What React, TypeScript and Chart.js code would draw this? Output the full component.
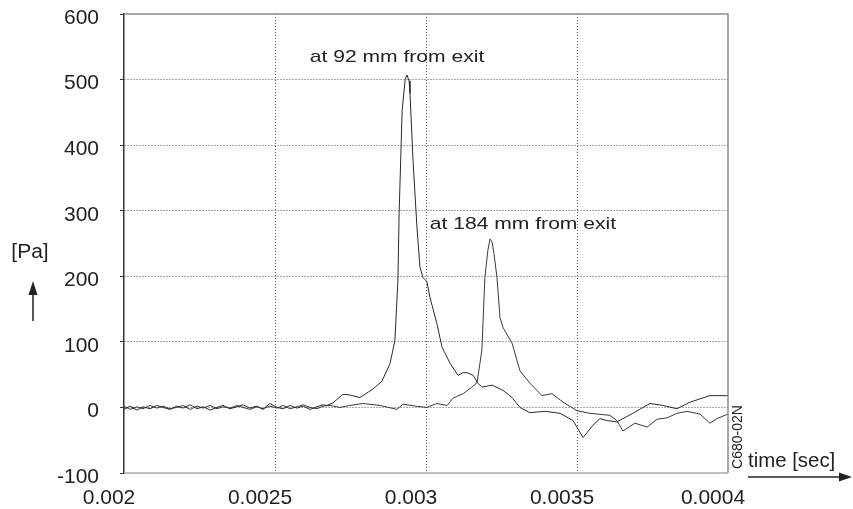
import React, { useEffect, useRef } from 'react';
import { Chart, registerables } from 'chart.js';

Chart.register(...registerables);

// Pressure at 92 mm from exit
const timesA = [
  0.002, 0.00202, 0.002043, 0.002063, 0.002086, 0.002109, 0.002129, 0.002152, 0.002175, 0.002195,
  0.002219, 0.002242, 0.002262, 0.002285, 0.002308, 0.002328, 0.002351, 0.002374, 0.002394, 0.002417,
  0.00244, 0.00246, 0.002483, 0.002507, 0.002527, 0.00255, 0.002573, 0.002593, 0.002616, 0.002639,
  0.002659, 0.002672, 0.002692, 0.002725, 0.002748, 0.002781, 0.002824, 0.002854, 0.002881, 0.002897,
  0.002907, 0.002911, 0.002921, 0.002931, 0.002937, 0.002944, 0.002947, 0.002957, 0.00297, 0.00298, 0.00299,
  0.003003, 0.003013, 0.003036, 0.003053, 0.00308, 0.003106, 0.003123, 0.003136, 0.003156, 0.003172,
  0.003185, 0.003219, 0.003255, 0.003285, 0.003311, 0.003344, 0.003394, 0.003444, 0.003487, 0.00352,
  0.003553, 0.003576, 0.003599, 0.003632, 0.003685, 0.003719, 0.003742, 0.003785, 0.003831, 0.003874,
  0.00394, 0.004,
];
const pressureA = [
  -3, 2, -4, 1, -2, 3, 0, -3, 2, -1,
  4, -2, 1, -4, 0, 3, -2, 1, 4, -1,
  2, -3, 6, 0, -2, 3, -1, 2, -3, 1,
  4, 3, 7, 20, 19, 15, 28, 40, 67, 102,
  194, 296, 453, 500, 507, 498, 479, 377, 275, 214, 198,
  192, 168, 128, 92, 67, 49, 53, 53, 49, 37,
  31, 34, 26, 15, 0, -8, -6, -9, -20, -46,
  -27, -17, -20, -22, -9, 0, 6, 3, -2, 8,
  18, 18,
];

// Pressure at 184 mm from exit
const timesB = [
  0.002, 0.00202, 0.002043, 0.002063, 0.002086, 0.002109, 0.002129, 0.002152, 0.002175, 0.002195,
  0.002219, 0.002242, 0.002262, 0.002285, 0.002308, 0.002328, 0.002351, 0.002374, 0.002394, 0.002417,
  0.00244, 0.00246, 0.002483, 0.002507, 0.002527, 0.00255, 0.002573, 0.002593, 0.002616, 0.002639,
  0.002659, 0.002682, 0.002715, 0.002748, 0.002791, 0.002848, 0.002904, 0.002924, 0.002964, 0.003003,
  0.003036, 0.00307, 0.003089, 0.003123, 0.003152, 0.003169, 0.003185, 0.003195, 0.003205, 0.003212,
  0.003219, 0.003225, 0.003235, 0.003245, 0.003255, 0.003285, 0.003311, 0.003344, 0.003384, 0.003417,
  0.003454, 0.0035, 0.003543, 0.003609, 0.003632, 0.003652, 0.003692, 0.003732, 0.003765, 0.003798,
  0.003831, 0.003864, 0.003907, 0.00394, 0.003964, 0.004,
];
const pressureB = [
  2, -3, 1, -2, 3, -1, 2, -2, 0, 3,
  -3, 2, -1, 3, -2, 1, -1, 3, 0, -3,
  1, -2, 2, -1, 3, -2, 1, 4, 0, -2,
  2, 3, 0, 3, 6, 3, -3, 5, 2, 0,
  6, 3, 14, 21, 31, 38, 87, 198, 240, 257,
  252, 235, 198, 137, 122, 98, 56, 37, 18, 21,
  8, -5, -9, -12, -20, -36, -24, -30, -18, -16,
  -9, -6, -10, -24, -17, -10,
];

const xTickLabels = ['0.002', '0.0025', '0.003', '0.0035', '0.0004'];
const annotationTexts = ['at 92 mm from exit', 'at 184 mm from exit'];
const yAxisLabel = '[Pa]';
const xAxisLabel = 'time [sec]';
const figureCode = 'C680-02N';

const FONT = '"Liberation Sans", Arial, Helvetica, sans-serif';
const INK = '#222';

function drawText(ctx: CanvasRenderingContext2D, text: string, x: number, y: number, size: number, sx = 1, align: CanvasTextAlign = 'center', rot = 0) {
  ctx.save();
  ctx.translate(x, y);
  if (rot) ctx.rotate(rot);
  ctx.scale(sx, 1);
  ctx.font = `${size}px ${FONT}`;
  ctx.textAlign = align;
  ctx.textBaseline = 'middle';
  ctx.fillStyle = INK;
  ctx.fillText(text, 0, 0);
  ctx.restore();
}

const decorPlugin = {
  id: 'decor',
  afterDraw(chart: any) {
    const { ctx, chartArea: a, scales } = chart;
    const x = scales.x;
    const y = scales.y;
    ctx.save();
    ctx.strokeStyle = '#8a8a8a';
    ctx.lineWidth = 1.5;
    ctx.beginPath();
    ctx.moveTo(a.left, a.top);
    ctx.lineTo(a.right, a.top);
    ctx.lineTo(a.right, a.bottom);
    ctx.stroke();
    ctx.strokeStyle = '#a8a8a8';
    ctx.beginPath();
    ctx.moveTo(a.left, a.bottom);
    ctx.lineTo(a.right, a.bottom);
    ctx.stroke();

    // annotations
    drawText(ctx, annotationTexts[0], x.getPixelForValue(0.002904), y.getPixelForValue(534), 17, 1.24);
    drawText(ctx, annotationTexts[1], x.getPixelForValue(0.003321), y.getPixelForValue(279), 17, 1.24);

    // y axis label and arrow
    drawText(ctx, yAxisLabel, 30, 252, 20, 1.05);
    ctx.strokeStyle = INK;
    ctx.fillStyle = INK;
    ctx.lineWidth = 1.5;
    ctx.beginPath();
    ctx.moveTo(33, 321);
    ctx.lineTo(33, 290);
    ctx.stroke();
    ctx.beginPath();
    ctx.moveTo(33, 281);
    ctx.lineTo(28.5, 295);
    ctx.lineTo(37.5, 295);
    ctx.closePath();
    ctx.fill();

    // x axis label and arrow
    drawText(ctx, xAxisLabel, 748, 461, 20, 1.02, 'left');
    ctx.beginPath();
    ctx.moveTo(748, 477);
    ctx.lineTo(842, 477);
    ctx.stroke();
    ctx.beginPath();
    ctx.moveTo(852, 477);
    ctx.lineTo(839, 472.5);
    ctx.lineTo(839, 481.5);
    ctx.closePath();
    ctx.fill();

    // figure code, vertical
    drawText(ctx, figureCode, 738, 437, 14, 1, 'center', -Math.PI / 2);
    ctx.restore();
  },
};

export default function App() {
  const ref = useRef<HTMLCanvasElement>(null);

  useEffect(() => {
    if (!ref.current) return;
    const dataA = timesA.map((t, i) => ({ x: t, y: pressureA[i] }));
    const dataB = timesB.map((t, i) => ({ x: t, y: pressureB[i] }));
    const chart = new Chart(ref.current, {
      type: 'line',
      data: {
        datasets: [
          { label: annotationTexts[0], data: dataA, borderColor: '#2a2a2a', borderWidth: 1, pointRadius: 0, tension: 0, fill: false },
          { label: annotationTexts[1], data: dataB, borderColor: '#3a3a3a', borderWidth: 1, pointRadius: 0, tension: 0, fill: false },
        ],
      },
      options: {
        animation: false,
        responsive: false,
        layout: { padding: { left: 0, right: 125, top: 14, bottom: 0 } },
        plugins: { legend: { display: false }, tooltip: { enabled: false } },
        scales: {
          x: {
            type: 'linear',
            min: 0.002,
            max: 0.004,
            afterFit: (s: any) => { s.height = 36; s.paddingLeft = 0; s.paddingRight = 0; },
            ticks: {
              stepSize: 0.0005,
              padding: 13,
              labelOffset: -15,
              color: INK,
              font: { family: FONT, size: 21 },
              maxRotation: 0,
              callback: (_v: any, i: number) => xTickLabels[i] ?? '',
            },
            grid: {
              drawTicks: false,
              color: (c: any) => {
                const v = c.tick ? c.tick.value : 0;
                return Math.abs(v - 0.002) < 1e-9 || Math.abs(v - 0.004) < 1e-9 ? 'rgba(0,0,0,0)' : '#555';
              },
              lineWidth: 1,
            },
            border: { display: false, dash: [1, 2] },
          },
          y: {
            min: -100,
            max: 600,
            afterFit: (s: any) => { s.width = 124; s.paddingTop = 0; s.paddingBottom = 0; },
            ticks: {
              stepSize: 100,
              padding: 21,
              labelOffset: 4,
              color: INK,
              font: { family: FONT, size: 21 },
            },
            grid: {
              drawTicks: true,
              tickLength: 4,
              tickColor: '#333',
              color: (c: any) => {
                const v = c.tick ? c.tick.value : 0;
                return v === -100 || v === 600 ? 'rgba(0,0,0,0)' : '#555';
              },
              lineWidth: 1,
            },
            border: { display: true, color: '#333', width: 1.5, dash: [1, 2] },
          },
        },
      },
      plugins: [decorPlugin],
    } as any);
    return () => chart.destroy();
  }, []);

  return (
    <div style={{ position: 'absolute', left: 0, top: 0, width: 853, height: 509, background: '#fff' }}>
      <canvas ref={ref} width={853} height={509} style={{ display: 'block' }} />
    </div>
  );
}
